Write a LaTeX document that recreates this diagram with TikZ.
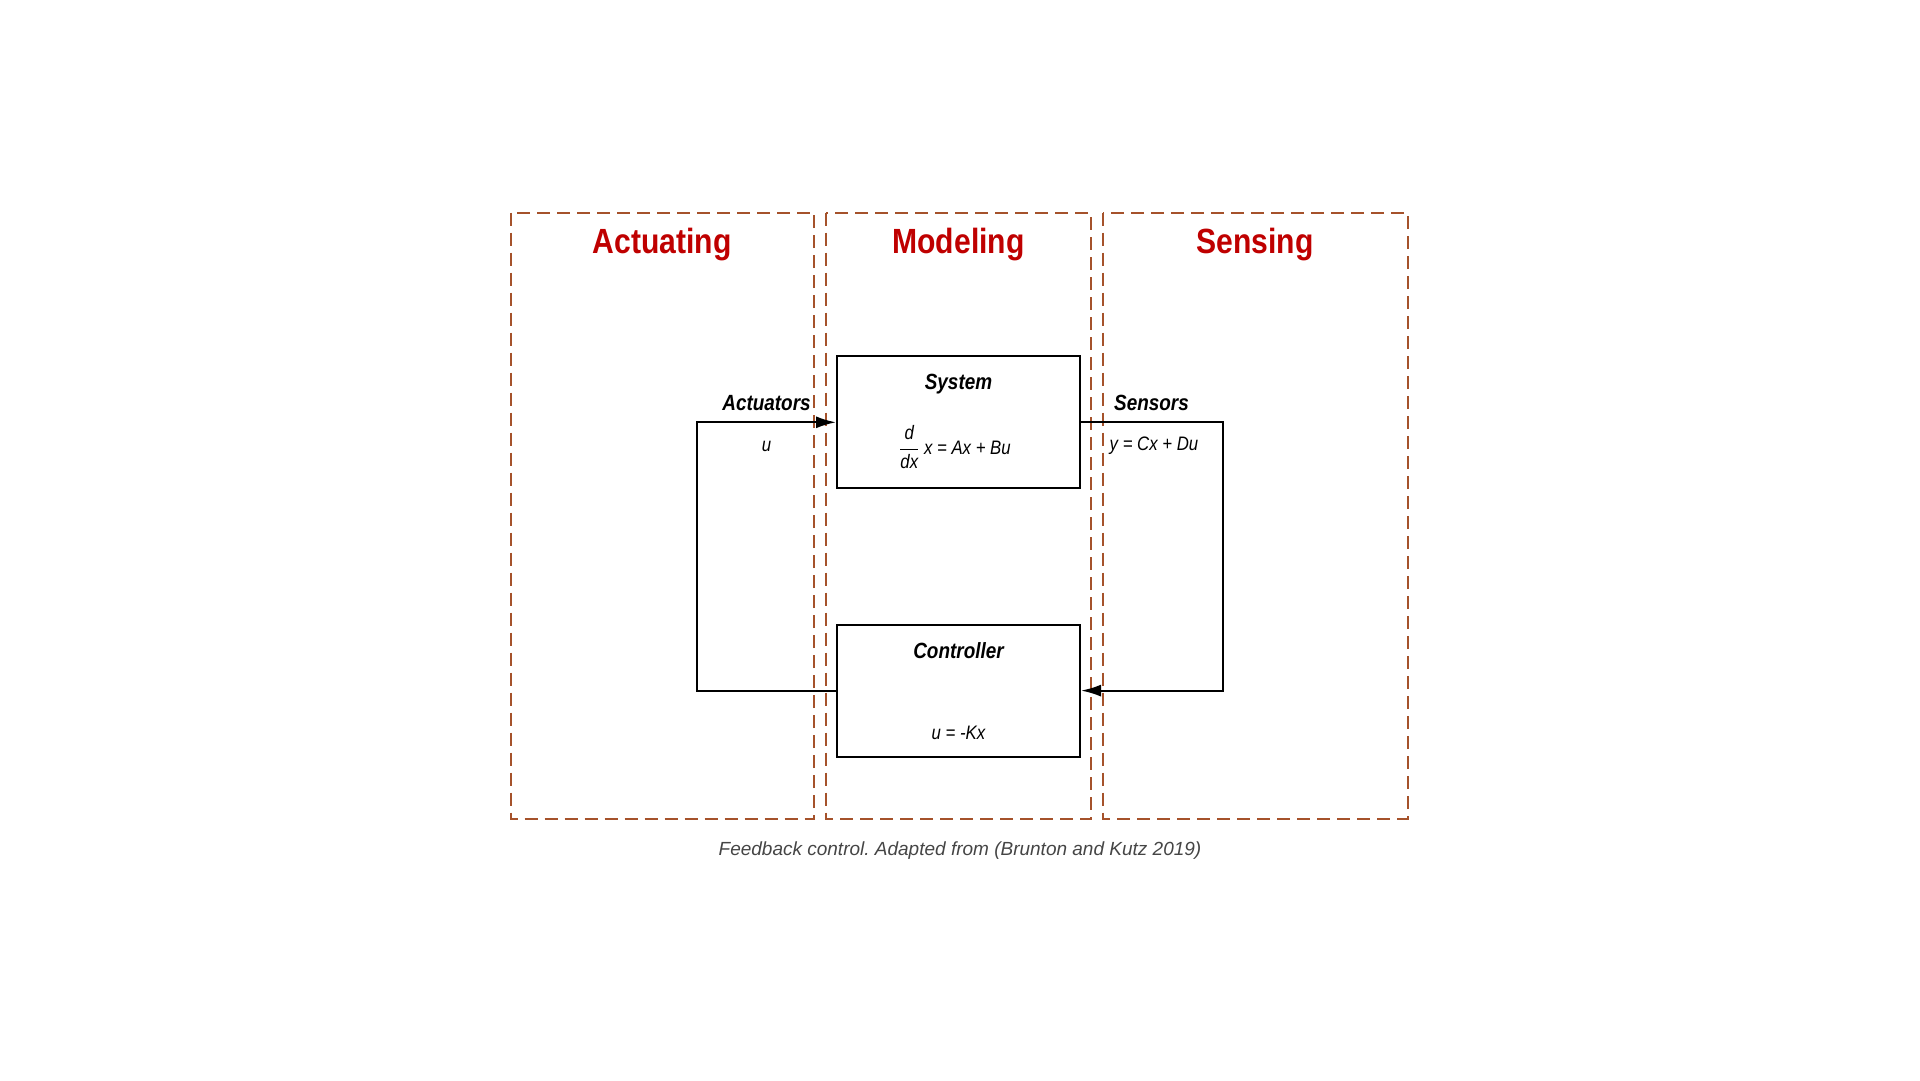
\documentclass[tikz,border=0pt]{standalone}
\usepackage{fontspec}
\setmainfont{Liberation Sans}
\newfontfamily\condfont{Liberation Sans}[FakeStretch=0.86]
\usetikzlibrary{arrows.meta}
\definecolor{titlered}{HTML}{BF0000}
\definecolor{regionbrown}{HTML}{A5522B}
\definecolor{captiongrey}{HTML}{454545}
\frenchspacing

\begin{document}
\begin{tikzpicture}[x=1pt,y=-1pt]
    \tikzstyle{region}=[draw=regionbrown, line width=2pt, dash pattern=on 13pt off 7pt]
    \tikzstyle{regiontitle}=[inner sep=0pt, anchor=base, text=titlered, font=\condfont\bfseries\fontsize{35}{40}\selectfont]
    \tikzstyle{block}=[draw=black, line width=2pt, minimum width=243pt, minimum height=132pt, inner sep=0pt]
    \tikzstyle{tag}=[inner sep=0pt, anchor=base, font=\condfont\bfseries\itshape\fontsize{22}{25}\selectfont]
    \tikzstyle{eq}=[inner sep=0pt, anchor=base, font=\condfont\itshape\fontsize{19.5}{23}\selectfont]
    \tikzstyle{flow}=[line width=2pt, -{Latex[length=20pt,width=12pt]}]
    \useasboundingbox (0,0) rectangle (1920,1080);
    % the three dashed regions
    \draw[region] (510.5,212.5) rectangle (814,818.5);
    \draw[region] (826,212.5) rectangle (1091,818.5);
    \draw[region] (1103,212.5) rectangle (1407.5,818.5);
    \node[regiontitle] (actuating) at (662,253) {Actuating};
    \node[regiontitle] (modeling) at (958.5,253) {Modeling};
    \node[regiontitle] (sensing) at (1255,253) {Sensing};
    % blocks
    \node[block] (sys) at (958.5,422.3) {};
    \node[block] (ctl) at (958.5,690.6) {};
    \node[tag] (systitle) at (958.5,389.5) {System};
    \node[eq] (syseq) at (955,454) {$\displaystyle\frac{\mbox{\condfont\itshape d}}{\mbox{\condfont\itshape dx}}$ x = Ax + Bu};
    \node[tag] (ctltitle) at (958.5,658) {Controller};
    \node[eq] (ctleq) at (958.5,739) {u = -Kx};
    % loop
    \coordinate (actcorner) at (696.5,690.6);
    \coordinate (sencorner) at (1223,422.3);
    \draw[flow] (ctl.west) -- (actcorner) |- (sys.west);
    \draw[flow] (sys.east) -- (sencorner) |- (ctl.east);
    \node[tag] (actuators) at (766.5,410) {Actuators};
    \node[eq] (ulabel) at (766.5,451) {u};
    \node[tag] (sensors) at (1151.5,410) {Sensors};
    \node[eq] (ylabel) at (1154,450) {y = Cx + Du};
    %\node caption
    \node[inner sep=0pt, anchor=base, text=captiongrey, font=\itshape\fontsize{19}{23}\selectfont] (caption) at (960,855) {Feedback control. Adapted from (Brunton and Kutz 2019)};
  \end{tikzpicture}
\end{document}
